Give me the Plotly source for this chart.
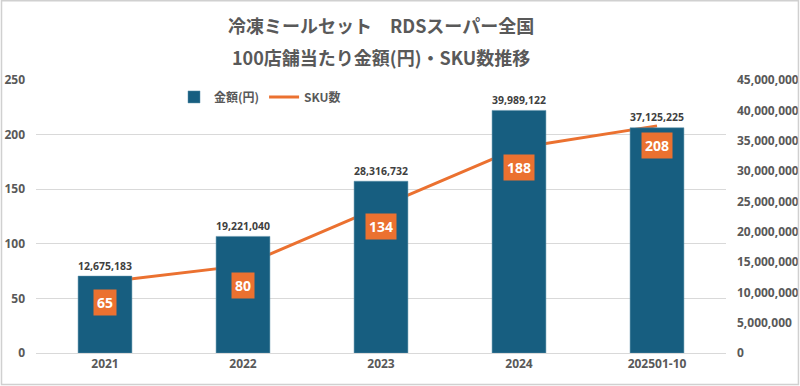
import plotly.graph_objects as go

categories = ["2021", "2022", "2023", "2024", "202501-10"]
amounts = [12675183, 19221040, 28316732, 39989122, 37125225]
sku = [65, 80, 134, 188, 208]
left_ticks = [0, 50, 100, 150, 200, 250]
right_ticks = [0, 5000000, 10000000, 15000000, 20000000, 25000000, 30000000, 35000000, 40000000, 45000000]
title_lines = ["冷凍ミールセット　RDSスーパー全国", "100店舗当たり金額(円)・SKU数推移"]

FONT = "Noto Sans CJK JP"
NUM = "Open Sans, Noto Sans CJK JP"
TXT = "#404040"
TICK = "#595959"
BAR = "#175E80"
ORANGE = "#EB7130"

fig = go.Figure()
fig.add_trace(go.Bar(
    x=categories, y=amounts, name="<b>金額(円)</b>", yaxis="y2",
    marker=dict(color=BAR, line=dict(color="#5b8fa8", width=0.5)),
    text=[f"<b>{v:,}</b>" for v in amounts], textposition="outside",
    textfont=dict(family=NUM, size=12.5, color=TXT), cliponaxis=False,
))
fig.add_trace(go.Scatter(
    x=categories, y=sku, name="<b>SKU数</b>", mode="lines",
    line=dict(color=ORANGE, width=3), yaxis="y",
))
for i, s in enumerate(sku):
    fig.add_annotation(x=i, y=s, xref="x", yref="y", text=f"<b>{s}</b>", showarrow=False,
                       yshift=-20, bgcolor=ORANGE, font=dict(family=NUM, size=14, color="white"),
                       borderpad=3)

for t, yy in zip(title_lines, [1.2015, 1.084]):
    fig.add_annotation(x=0.5, y=yy, xref="paper", yref="paper", text=f"<b>{t}</b>",
                       showarrow=False, xanchor="center", yanchor="middle",
                       font=dict(family=FONT, size=18, color=TICK))

fig.update_layout(
    width=800, height=386,
    margin=dict(l=36, r=74, t=80, b=33, autoexpand=False),
    paper_bgcolor="white", plot_bgcolor="white",
    font=dict(family=FONT, color=TXT),
    showlegend=True,
    legend=dict(orientation="h", x=0.2, y=0.938, xanchor="left", yanchor="middle",
                font=dict(family=FONT, size=12, color=TICK), bgcolor="rgba(0,0,0,0)"),
    bargap=0.61,
    xaxis=dict(type="category", range=[-0.5, 4.5], showgrid=False, showline=True,
               linecolor="#d9d9d9", linewidth=1, automargin=False,
               tickvals=categories, ticktext=[f"<b>{c}</b>" for c in categories],
               tickfont=dict(family=NUM, size=12, color=TICK), ticks=""),
    yaxis=dict(range=[0, 250], tickvals=left_ticks, ticktext=[f"<b>{v}</b>" for v in left_ticks],
               showgrid=True, gridcolor="#d9d9d9", automargin=False,
               zeroline=False, tickfont=dict(family=NUM, size=12, color=TICK), ticklabelstandoff=10),
    yaxis2=dict(range=[0, 45000000], tickvals=right_ticks, ticktext=[f"<b>{v:,}</b>" for v in right_ticks],
                overlaying="y", side="right", automargin=False,
                showgrid=False, zeroline=False,
                tickfont=dict(family=NUM, size=12, color=TICK), ticklabelstandoff=10),
)
fig.add_shape(type="rect", xref="paper", yref="paper", x0=-0.05, y0=-0.115, x1=1.105, y1=1.29,
              line=dict(color="#d0d0d0", width=1.5))
fig.write_html("out.html", config={"displayModeBar": False},
               post_script="document.body.style.margin='0';")
